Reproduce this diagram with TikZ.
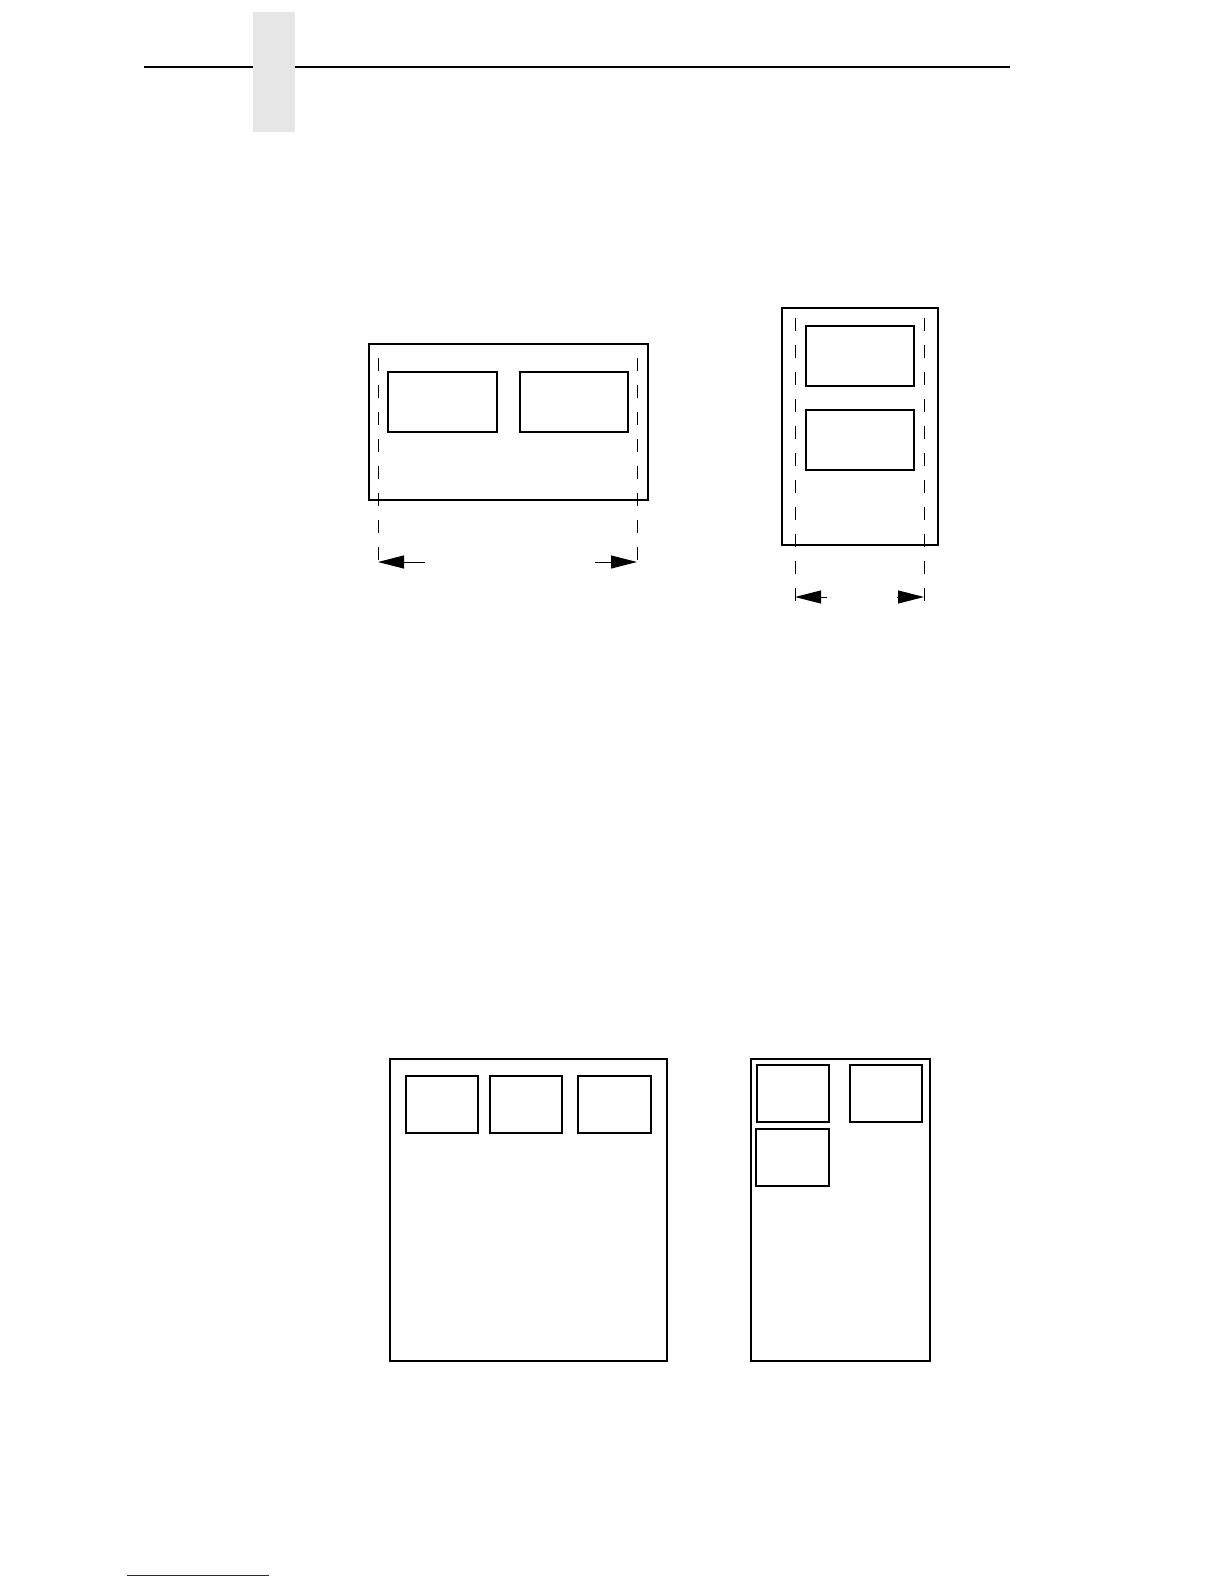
\documentclass[tikz,border=0pt]{standalone}
\usetikzlibrary{arrows.meta}
\definecolor{tabgray}{HTML}{E6E6E6}
\definecolor{linkblue}{HTML}{1A1A9A}
\tikzset{
  box/.style={draw=black,line width=1.1pt},
  guide/.style={draw=black,line width=1pt,dash pattern=on 13pt off 14pt},
  dimarrow/.style={draw=black,line width=1pt,-{Triangle[length=26pt,width=13pt]}}
}
\begin{document}
\begin{tikzpicture}[x=1pt,y=-1pt]
\useasboundingbox (0,0) rectangle (1224,1584);
% header
\draw[line width=2pt] (144,67) -- (1010,67);
\fill[tabgray] (253,12) rectangle (295,132);
% bottom link line
\draw[linkblue,line width=1pt] (127,1575) -- (269,1575);

% diagram 1 (landscape, two labels)
\draw[box] (369,344) rectangle (648,500);
\draw[box] (388,372) rectangle (497,432);
\draw[box] (520,372) rectangle (628,432);
\draw[guide] (378,358) -- (378,569);
\draw[guide] (637,358) -- (637,569);
\coordinate (a1t) at (425,562);
\coordinate (a1h) at (378,562);
\coordinate (a2t) at (595,562);
\coordinate (a2h) at (637,562);
\draw[dimarrow] (a1t) -- (a1h);
\draw[dimarrow] (a2t) -- (a2h);

% diagram 2 (portrait, two labels)
\draw[box] (782,308) rectangle (938,545);
\draw[box] (806,326) rectangle (914,386);
\draw[box] (806,410) rectangle (914,470);
\draw[guide] (795,318) -- (795,603);
\draw[guide] (924,318) -- (924,603);
\coordinate (b1t) at (827,597);
\coordinate (b1h) at (795,597);
\coordinate (b2t) at (897,597);
\coordinate (b2h) at (924,597);
\draw[dimarrow] (b1t) -- (b1h);
\draw[dimarrow] (b2t) -- (b2h);

% diagram 3 (three labels across)
\draw[box] (390,1059) rectangle (667,1361);
\draw[box] (406,1076) rectangle (478,1133);
\draw[box] (490,1076) rectangle (562,1133);
\draw[box] (578,1076) rectangle (651,1133);

% diagram 4 (three labels, two rows)
\draw[box] (751,1059) rectangle (930,1361);
\draw[box] (757,1065) rectangle (829,1122);
\draw[box] (850,1065) rectangle (922,1122);
\draw[box] (756,1129) rectangle (829,1186);
\end{tikzpicture}
\end{document}
